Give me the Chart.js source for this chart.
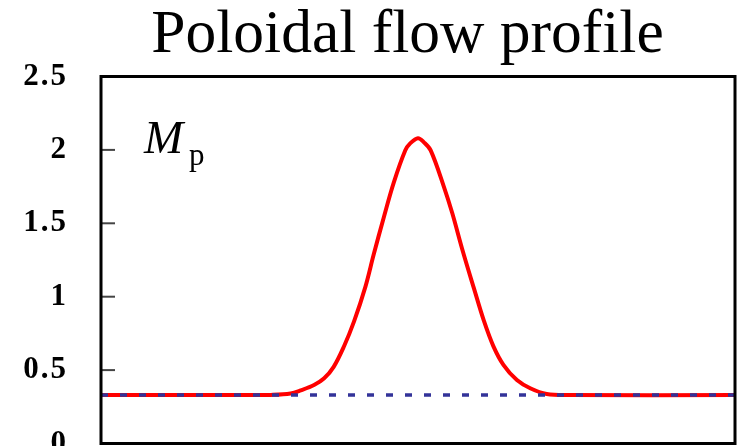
<!DOCTYPE html>
<html><head><meta charset="utf-8">
<script src="https://cdn.jsdelivr.net/npm/chart.js@4/dist/chart.umd.min.js"></script>
<style>html,body{margin:0;padding:0;background:#fff}#wrap{width:743px;height:446px;overflow:hidden;position:relative;background:#fff}</style>
</head><body><div id="wrap"><canvas id="c" width="743" height="500"></canvas></div>
<script>
const chartTitle = 'Poloidal flow profile';
const seriesName = 'M';
const seriesSub = 'p';
const xPositions = [0, 0.236, 0.268, 0.299, 0.315, 0.336, 0.352, 0.367, 0.383, 0.399, 0.417, 0.430, 0.446, 0.462, 0.480, 0.488, 0.500, 0.509, 0.520, 0.541, 0.554, 0.570, 0.588, 0.604, 0.619, 0.635, 0.656, 0.677, 0.703, 0.740, 1.0];
const mpValues   = [0.33, 0.33, 0.331, 0.341, 0.362, 0.398, 0.444, 0.522, 0.659, 0.83, 1.067, 1.285, 1.54, 1.78, 1.997, 2.046, 2.08, 2.053, 1.997, 1.747, 1.57, 1.32, 1.06, 0.835, 0.662, 0.534, 0.432, 0.376, 0.337, 0.33, 0.33];
const refX = [0, 1];
const refValues = [0.33, 0.33];
const yTickValues = [0, 0.5, 1, 1.5, 2, 2.5];
const yTickLabels = ['0', '0.5', '1', '1.5', '2', '2.5'];

const decor = {
  id: 'decor',
  beforeDraw(chart) { chart.ctx.letterSpacing = '2px'; },
  afterDatasetsDraw(chart) {
    const {ctx, chartArea: a, scales: {y}} = chart;
    ctx.save();
    ctx.letterSpacing = '0px';
    ctx.strokeStyle = '#444'; ctx.lineWidth = 2;
    yTickValues.forEach(v => {
      if (v > y.min && v < y.max) {
        const py = y.getPixelForValue(v);
        ctx.beginPath(); ctx.moveTo(a.left, py); ctx.lineTo(a.left + 14, py); ctx.stroke();
      }
    });
    ctx.strokeStyle = '#000'; ctx.lineWidth = 3;
    ctx.strokeRect(a.left, a.top, a.right - a.left, a.bottom - a.top);
    ctx.fillStyle = '#000';
    ctx.textBaseline = 'alphabetic';
    ctx.textAlign = 'center';
    ctx.font = "61.5px 'Liberation Serif'";
    ctx.fillText(chartTitle, 407.5, 52);
    ctx.textAlign = 'left';
    ctx.font = "italic 47px 'Liberation Serif'";
    ctx.fillText(seriesName, 144, 153);
    ctx.font = "31px 'Liberation Serif'";
    ctx.fillText(seriesSub, 189, 165);
    ctx.restore();
  },
  afterDraw(chart) { chart.ctx.letterSpacing = '0px'; }
};

new Chart(document.getElementById('c'), {
  type: 'line',
  data: {
    datasets: [
      {
        label: 'reference',
        data: refX.map((x, i) => ({x, y: refValues[i]})),
        borderColor: '#333399', borderWidth: 3.5, borderDash: [7, 12],
        pointRadius: 0, fill: false, order: 0
      },
      {
        label: 'Mp',
        data: xPositions.map((x, i) => ({x, y: mpValues[i]})),
        borderColor: '#ff0000', borderWidth: 4,
        pointRadius: 0, fill: false, tension: 0.35, order: 1
      }
    ]
  },
  options: {
    responsive: false,
    animation: false,
    layout: {padding: {top: 76.5, right: 8, bottom: 56.5, left: 0}},
    plugins: {legend: {display: false}, title: {display: false}, tooltip: {enabled: false}},
    scales: {
      x: {type: 'linear', min: 0, max: 1, display: false},
      y: {
        min: 0, max: 2.5,
        afterBuildTicks: s => { s.ticks = yTickValues.map(v => ({value: v})); },
        afterFit: s => { s.width = 101; },
        grid: {display: false, drawTicks: false},
        border: {display: false},
        ticks: {
          padding: 33, color: '#000',
          font: {family: "'Liberation Serif'", size: 31, weight: 'bold'},
          callback: v => yTickLabels[yTickValues.indexOf(v)]
        }
      }
    }
  },
  plugins: [decor]
});
</script>
</body></html>
